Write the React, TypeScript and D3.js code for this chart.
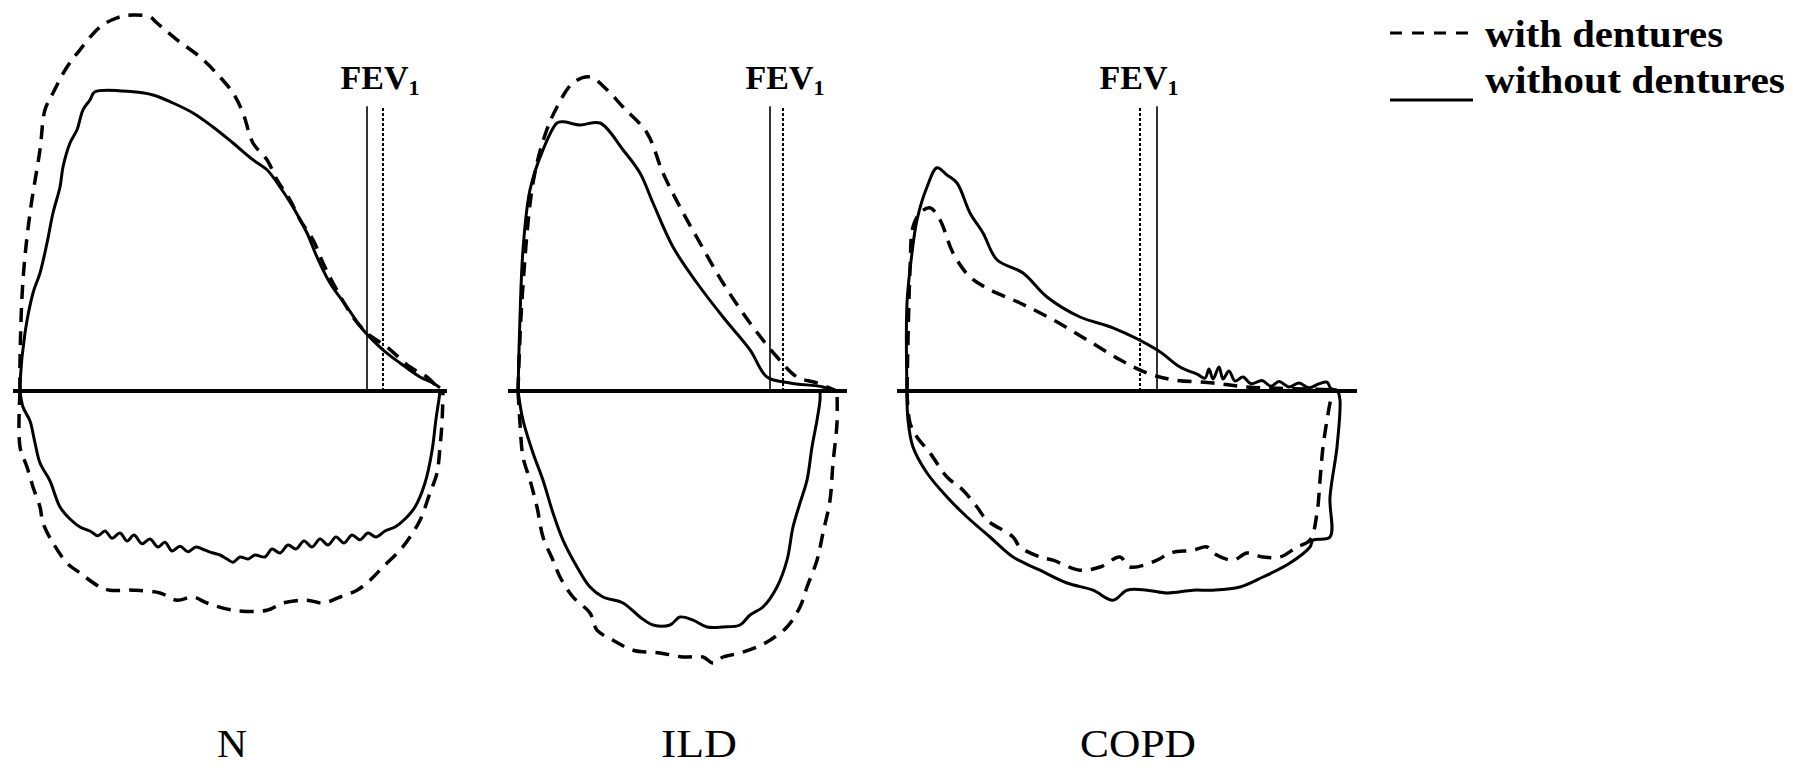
import React from 'react'
import * as d3 from 'd3'

const width = 1793
const height = 768

// [volume (L), flow (L/s)] pairs, expiration positive, inspiration negative
const nWithExp = [
  [0, 0], [0, 0.78], [0.03, 2.78], [0.1, 4.45], [0.2, 6.03], [0.25, 7.03], [0.33, 7.45],
  [0.47, 8.1], [0.6, 8.53], [0.8, 9.1], [0.97, 9.33], [1.13, 9.4], [1.3, 9.35], [1.37, 9.2],
  [1.57, 8.78], [1.8, 8.35], [2.0, 7.85], [2.13, 7.45], [2.23, 6.95], [2.33, 6.2], [2.47, 5.78],
  [2.57, 5.28], [2.7, 4.78], [2.8, 4.28], [2.93, 3.78], [3.03, 3.2], [3.13, 2.7], [3.33, 1.85],
  [3.47, 1.45], [3.67, 1.1], [3.9, 0.6], [4.07, 0.35], [4.17, 0.1],
]
const nWithoutExp = [
  [0, 0], [0, 0.2], [0.05, 1.45], [0.13, 2.45], [0.2, 2.95], [0.27, 3.7], [0.33, 4.45],
  [0.4, 5.1], [0.43, 5.6], [0.5, 6.2], [0.57, 6.53], [0.63, 7.03], [0.7, 7.28], [0.75, 7.48],
  [1.13, 7.48], [1.33, 7.4], [1.53, 7.2], [1.73, 6.95], [1.93, 6.6], [2.13, 6.2], [2.33, 5.78],
  [2.47, 5.53], [2.6, 5.1], [2.73, 4.6], [2.87, 3.95], [2.97, 3.35], [3.1, 2.7], [3.27, 2.1],
  [3.43, 1.53], [3.63, 1.03], [3.8, 0.7], [4.0, 0.35], [4.13, 0.2], [4.2, 0.08],
]
const nWithInsp = [
  [0, 0], [0, -1.4], [0.07, -1.9], [0.13, -2.4], [0.2, -2.9], [0.23, -3.3], [0.33, -3.8],
  [0.47, -4.3], [0.6, -4.55], [0.8, -4.9], [0.9, -4.98], [1.13, -4.98], [1.4, -5.05],
  [1.57, -5.23], [1.73, -5.15], [1.87, -5.3], [2.13, -5.48], [2.47, -5.48], [2.63, -5.3],
  [2.87, -5.23], [3.03, -5.3], [3.2, -5.15], [3.37, -4.98], [3.5, -4.73], [3.63, -4.4],
  [3.8, -3.98], [3.9, -3.65], [4.0, -3.23], [4.1, -2.55], [4.17, -2.05], [4.2, -1.4],
  [4.22, -0.8], [4.23, 0],
]
const nWithoutInsp = [
  [0, 0], [0.03, -0.4], [0.1, -0.75], [0.15, -1.3], [0.2, -1.8], [0.3, -2.25], [0.4, -2.9],
  [0.5, -3.2], [0.6, -3.4], [0.7, -3.5], [0.78, -3.62], [0.85, -3.5], [0.92, -3.68], [1.0, -3.55],
  [1.07, -3.75], [1.14, -3.6], [1.22, -3.82], [1.3, -3.7], [1.38, -3.9], [1.45, -3.78],
  [1.52, -4.0], [1.6, -3.88], [1.68, -4.02], [1.76, -3.9], [1.85, -3.98], [1.93, -4.05],
  [2.0, -4.1], [2.07, -4.2], [2.13, -4.28], [2.2, -4.15], [2.28, -4.2], [2.35, -4.1],
  [2.45, -4.15], [2.52, -3.95], [2.6, -4.05], [2.68, -3.85], [2.76, -3.95], [2.84, -3.75],
  [2.92, -3.9], [3.0, -3.7], [3.08, -3.85], [3.16, -3.65], [3.24, -3.8], [3.32, -3.6],
  [3.4, -3.72], [3.48, -3.55], [3.56, -3.65], [3.65, -3.5], [3.75, -3.4], [3.85, -3.2],
  [3.95, -2.9], [4.05, -2.3], [4.12, -1.5], [4.16, -0.7], [4.19, -0.2], [4.2, 0],
]

const ildWithExp = [
  [0, 0], [0.04, 2.28], [0.15, 5.2], [0.27, 6.4], [0.39, 7.1], [0.55, 7.7], [0.72, 7.85],
  [0.89, 7.53], [1.05, 7.1], [1.29, 6.45], [1.45, 5.45], [1.62, 4.6], [1.82, 3.7], [2.05, 2.7],
  [2.32, 1.7], [2.59, 0.85], [2.79, 0.35], [2.99, 0.2], [3.19, 0],
]
const ildWithoutExp = [
  [0, 0], [0.02, 1.85], [0.05, 3.53], [0.12, 5.03], [0.25, 6.03], [0.39, 6.7], [0.45, 6.73],
  [0.62, 6.65], [0.82, 6.7], [1.05, 6.03], [1.22, 5.45], [1.35, 4.7], [1.55, 3.6], [1.79, 2.7],
  [2.05, 1.85], [2.32, 1.03], [2.49, 0.35], [2.72, 0.2], [3.05, 0.1], [3.15, 0],
]
const ildWithInsp = [
  [0, 0], [0.02, -0.8], [0.05, -1.65], [0.12, -2.23], [0.19, -2.9], [0.25, -3.65], [0.35, -4.23],
  [0.42, -4.65], [0.55, -5.15], [0.72, -5.55], [0.79, -5.98], [0.95, -6.23], [1.15, -6.48],
  [1.42, -6.55], [1.65, -6.65], [1.85, -6.65], [1.95, -6.8], [2.05, -6.65], [2.22, -6.55],
  [2.39, -6.4], [2.52, -6.23], [2.69, -5.9], [2.82, -5.4], [2.89, -4.9], [2.99, -4.23],
  [3.05, -3.55], [3.12, -2.73], [3.15, -1.8], [3.19, -0.8], [3.19, 0],
]
const ildWithoutInsp = [
  [0, 0], [0.05, -0.73], [0.15, -1.55], [0.25, -2.23], [0.35, -3.05], [0.45, -3.73],
  [0.59, -4.4], [0.72, -4.9], [0.85, -5.15], [1.05, -5.3], [1.22, -5.65], [1.35, -5.85],
  [1.52, -5.85], [1.62, -5.65], [1.75, -5.73], [1.89, -5.9], [2.05, -5.9], [2.22, -5.85],
  [2.32, -5.6], [2.45, -5.4], [2.59, -4.9], [2.69, -4.23], [2.75, -3.4], [2.82, -2.8],
  [2.89, -2.23], [2.94, -1.4], [2.99, -0.73], [3.02, -0.23], [3.02, 0],
]

const copdWithExp = [
  [0, 0], [0.03, 3.03], [0.06, 4.1], [0.13, 4.45], [0.23, 4.58], [0.33, 4.28], [0.46, 3.45],
  [0.63, 2.85], [0.83, 2.53], [1.13, 2.2], [1.46, 1.78], [1.8, 1.28], [2.13, 0.78], [2.4, 0.45],
  [2.66, 0.28], [3.06, 0.2], [3.4, 0.1], [3.8, 0.06], [4.3, 0.03],
]
const copdWithoutExp = [
  [0, 0], [0, 2.2], [0.05, 3.45], [0.1, 4.28], [0.2, 5.1], [0.3, 5.58], [0.4, 5.4], [0.5, 5.2],
  [0.63, 4.45], [0.76, 3.95], [0.9, 3.28], [1.16, 2.95], [1.4, 2.35], [1.73, 1.85], [2.06, 1.58],
  [2.5, 1.03], [2.73, 0.6], [2.9, 0.42], [2.98, 0.32], [3.02, 0.55], [3.06, 0.3], [3.12, 0.6],
  [3.16, 0.3], [3.22, 0.5], [3.28, 0.25], [3.36, 0.35], [3.44, 0.18], [3.55, 0.26], [3.64, 0.12],
  [3.72, 0.24], [3.82, 0.1], [3.92, 0.2], [4.02, 0.08], [4.12, 0.18], [4.2, 0.22], [4.24, 0.06],
  [4.3, 0.03],
]
const copdWithInsp = [
  [0, 0], [0.03, -0.8], [0.1, -1.15], [0.23, -1.55], [0.4, -2.15], [0.56, -2.48], [0.7, -2.9],
  [0.8, -3.23], [1.06, -3.65], [1.13, -3.9], [1.33, -4.15], [1.46, -4.23], [1.73, -4.48],
  [1.93, -4.4], [2.13, -4.15], [2.23, -4.4], [2.5, -4.23], [2.63, -4.05], [2.86, -3.98],
  [3.0, -3.9], [3.06, -4.05], [3.26, -4.23], [3.4, -4.05], [3.56, -4.15], [3.73, -4.15],
  [3.9, -3.9], [4.03, -3.73], [4.1, -3.05], [4.13, -2.23], [4.16, -1.4], [4.2, -0.73],
  [4.23, -0.3], [4.26, 0],
]
const copdWithoutInsp = [
  [0, 0], [0.01, -0.73], [0.06, -1.4], [0.2, -2.05], [0.4, -2.65], [0.6, -3.15], [0.83, -3.65],
  [1.06, -4.15], [1.33, -4.48], [1.6, -4.8], [1.86, -4.98], [2.06, -5.23], [2.2, -4.98],
  [2.4, -4.98], [2.6, -5.05], [2.86, -4.98], [3.06, -4.98], [3.33, -4.9], [3.56, -4.65],
  [3.83, -4.3], [4.03, -3.9], [4.06, -3.73], [4.23, -3.65], [4.23, -2.65], [4.3, -1.4],
  [4.33, -0.23], [4.31, 0],
]

// FEV1 volumes [with dentures, without dentures]
const fev1 = {
  N: [3.63, 3.47],
  ILD: [2.65, 2.52],
  COPD: [2.33, 2.5],
}

const panels = [
  {
    name: 'N',
    left: 20,
    axis: [-0.07, 4.27],
    labelVol: 2.12,
    labelWidth: 30,
    fevLabelVol: 3.6,
    withDentures: [nWithExp, nWithInsp],
    withoutDentures: [nWithoutExp, nWithoutInsp],
  },
  {
    name: 'ILD',
    left: 518,
    axis: [-0.1, 3.29],
    labelVol: 1.81,
    labelWidth: 76,
    fevLabelVol: 2.67,
    withDentures: [ildWithExp, ildWithInsp],
    withoutDentures: [ildWithoutExp, ildWithoutInsp],
  },
  {
    name: 'COPD',
    left: 907,
    axis: [-0.1, 4.5],
    labelVol: 2.31,
    labelWidth: 116,
    fevLabelVol: 2.32,
    withDentures: [copdWithExp, copdWithInsp],
    withoutDentures: [copdWithoutExp, copdWithoutInsp],
  },
]

const legendItems = ['with dentures', 'without dentures']

const baseline = 391
const pxPerLitre = 100
const pxPerFlow = 40
const fevTop = 7.12

const serif = '"Liberation Serif", "Times New Roman", serif'
const dashPattern = '14,9'

const y = d3
  .scaleLinear()
  .domain([0, 1])
  .range([baseline, baseline - pxPerFlow])

function Panel({ panel }) {
  const x = d3
    .scaleLinear()
    .domain([0, 1])
    .range([panel.left, panel.left + pxPerLitre])

  const line = d3
    .line()
    .x((d) => x(d[0]))
    .y((d) => y(d[1]))
    .curve(d3.curveCatmullRom.alpha(0.5))

  const [fevWith, fevWithout] = fev1[panel.name]

  return (
    <g>
      <line
        x1={x(panel.axis[0])}
        x2={x(panel.axis[1])}
        y1={y(0)}
        y2={y(0)}
        style={{ stroke: 'black', strokeWidth: 4 }}
      />
      {panel.withoutDentures.map((d, i) => (
        <path
          key={'without-' + i}
          d={line(d)}
          style={{ fill: 'none', stroke: 'black', strokeWidth: 3, strokeLinejoin: 'round' }}
        />
      ))}
      {panel.withDentures.map((d, i) => (
        <path
          key={'with-' + i}
          d={line(d)}
          style={{
            fill: 'none',
            stroke: 'black',
            strokeWidth: 3.5,
            strokeDasharray: dashPattern,
          }}
        />
      ))}
      <line
        x1={x(fevWithout)}
        x2={x(fevWithout)}
        y1={y(0)}
        y2={y(fevTop)}
        style={{ stroke: 'black', strokeWidth: 1.6 }}
      />
      <line
        x1={x(fevWith)}
        x2={x(fevWith)}
        y1={y(0)}
        y2={y(fevTop)}
        style={{ stroke: 'black', strokeWidth: 2, strokeDasharray: '3,2' }}
      />
      <text
        x={x(panel.fevLabelVol)}
        y={89}
        textAnchor="middle"
        style={{ fontFamily: serif, fontWeight: 'bold', fontSize: '34px' }}
      >
        FEV
        <tspan fontSize="22px" dy={6}>
          1
        </tspan>
      </text>
      <text
        x={x(panel.labelVol) - panel.labelWidth / 2}
        y={757}
        textLength={panel.labelWidth}
        lengthAdjust="spacingAndGlyphs"
        style={{ fontFamily: serif, fontSize: '40px' }}
      >
        {panel.name}
      </text>
    </g>
  )
}

export default function App() {
  return (
    <svg
      width={width}
      height={height}
      style={{ position: 'absolute', left: 0, top: 0, background: 'white' }}
    >
      {panels.map((p) => (
        <Panel key={p.name} panel={p} />
      ))}
      <g>
        <line
          x1={1390}
          x2={1473}
          y1={33}
          y2={33}
          style={{ stroke: 'black', strokeWidth: 3, strokeDasharray: '12,10' }}
        />
        <line x1={1390} x2={1473} y1={100} y2={100} style={{ stroke: 'black', strokeWidth: 3 }} />
        {legendItems.map((t, i) => (
          <text
            key={t}
            x={1485}
            y={i === 0 ? 47 : 93}
            textLength={i === 0 ? 238 : 300}
            lengthAdjust="spacingAndGlyphs"
            style={{ fontFamily: serif, fontWeight: 'bold', fontSize: '38px' }}
          >
            {t}
          </text>
        ))}
      </g>
    </svg>
  )
}
